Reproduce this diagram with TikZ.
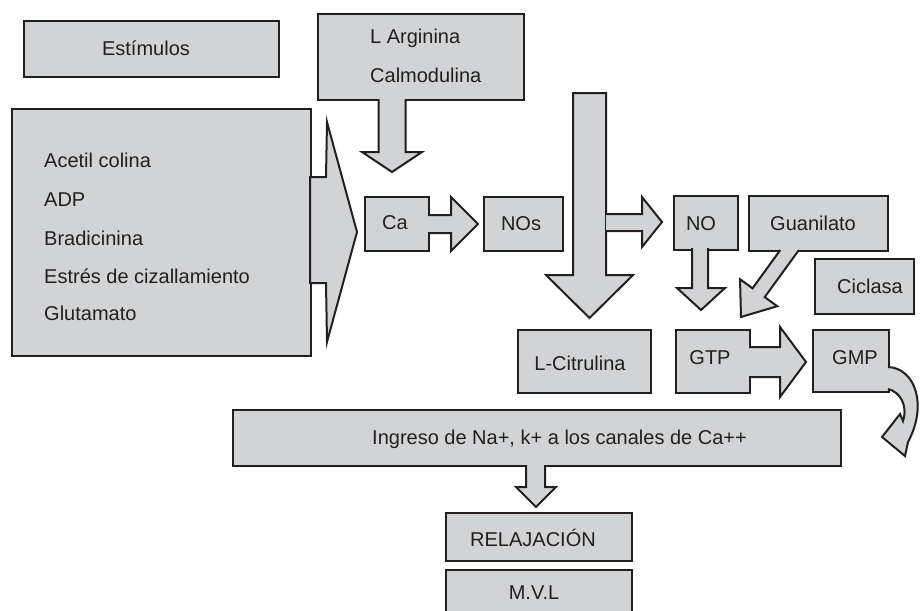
\documentclass[tikz,border=0pt]{standalone}
\usepackage{fontspec}
\setmainfont{Liberation Sans}
\definecolor{boxC}{HTML}{D1D3D4}
\definecolor{lineC}{HTML}{231F20}
\begin{document}
\begin{tikzpicture}[x=1pt,y=-1pt,
  box/.style={draw=lineC, fill=boxC, line width=2pt, inner sep=0pt, anchor=north west},
  blockarrow/.style={draw=lineC, fill=boxC, line width=2pt, line join=miter, miter limit=10},
  txt/.style={text=lineC, font=\fontsize{20}{24}\selectfont, inner sep=0pt},
]
\useasboundingbox (0,0) rectangle (920,610);
\clip (0,0) rectangle (920,610);
\fill[white] (0,0) rectangle (920,610);

% boxes
\node[box, minimum width=255pt, minimum height=56pt] (estim) at (23,20) {};
\node[box, minimum width=206pt, minimum height=86pt] (larg) at (317,13) {};
\node[box, minimum width=299pt, minimum height=247pt] (agents) at (11,108) {};
\node[box, minimum width=64pt, minimum height=54pt] (ca) at (364,196) {};
\node[box, minimum width=79pt, minimum height=54pt] (nos) at (483,196) {};
\node[box, minimum width=64pt, minimum height=54pt] (no) at (673,195) {};
\node[box, minimum width=139pt, minimum height=55pt] (guan) at (748,195) {};
\node[box, minimum width=99pt, minimum height=55pt] (cicl) at (814,258) {};
\node[box, minimum width=133pt, minimum height=63pt] (citr) at (517,329) {};
\node[box, minimum width=74pt, minimum height=63pt] (gtp) at (675,329) {};
\node[box, minimum width=76pt, minimum height=62pt] (gmp) at (812,329) {};
\node[box, minimum width=608pt, minimum height=56pt] (ingr) at (232,409) {};
\node[box, minimum width=186pt, minimum height=48pt] (relaj) at (445,512) {};
\node[box, minimum width=186pt, minimum height=56pt] (mvl) at (445,569) {};

% texts
\node[txt, anchor=base] (t-estim) at (146,56) {Estímulos};
\node[txt, anchor=base west] (t-larg1) at (370,44) {L Arginina};
\node[txt, anchor=base west] (t-larg2) at (370,82) {Calmodulina};
\node[txt, anchor=base west] (t-ag1) at (44,167) {Acetil colina};
\node[txt, anchor=base west] (t-ag2) at (44,206) {ADP};
\node[txt, anchor=base west] (t-ag3) at (44,245) {Bradicinina};
\node[txt, anchor=base west] (t-ag4) at (44,283) {Estrés de cizallamiento};
\node[txt, anchor=base west] (t-ag5) at (44,320) {Glutamato};
\node[txt, anchor=base] (t-ca) at (395,229) {Ca};
\node[txt, anchor=base] (t-nos) at (521,230) {NOs};
\node[txt, anchor=base] (t-no) at (701,230) {NO};
\node[txt, anchor=base] (t-guan) at (813,230) {Guanilato};
\node[txt, anchor=base] (t-cicl) at (870,293) {Ciclasa};
\node[txt, anchor=base] (t-citr) at (580,370) {L-Citrulina};
\node[txt, anchor=base] (t-gtp) at (710,364) {GTP};
\node[txt, anchor=base] (t-gmp) at (855,364) {GMP};
\node[txt, anchor=base west] (t-ingr) at (372,444) {Ingreso de Na+, k+ a los canales de Ca++};
\node[txt, anchor=base] (t-relaj) at (533,546) {RELAJACIÓN};
\node[txt, anchor=base] (t-mvl) at (534,599) {M.V.L};

% block arrows
% agents -> Ca (chevron)
\draw[blockarrow] (310,177) -- (326,177) -- (327,122) -- (357,232) -- (327,342) -- (326,283) -- (310,283) -- cycle;
% L Arginina -> Ca
\draw[blockarrow] (378.5,99) -- (378.5,152) -- (362,152) -- (392,172) -- (422,152) -- (405.5,152) -- (405.5,99);
% Ca -> NOs
\draw[blockarrow] (428,215) -- (451,215) -- (451,197) -- (478,224) -- (451,251) -- (451,233) -- (428,233);
% big down arrow -> L-Citrulina
\draw[blockarrow] (573,93) -- (606,93) -- (606,275) -- (633,275) -- (589.5,318) -- (546,275) -- (573,275) -- cycle;
% side arrow -> NO
\draw[blockarrow] (606,214) -- (642,214) -- (642,197) -- (662,222) -- (642,247) -- (642,231) -- (606,231);
% NO -> GTP
\draw[blockarrow] (692,248) -- (692,288) -- (677,288) -- (701,310) -- (725,288) -- (708,288) -- (708,248);
% Guanilato -> GTP (diagonal)
\draw[blockarrow] (780.3,250) -- (752.5,288.3) -- (740,279.2) -- (741,317) -- (777.2,306.2) -- (764.7,297.1) -- (798.9,250);
% GTP -> GMP
\draw[blockarrow] (749,347) -- (780,347) -- (780,327) -- (806,362) -- (780,397) -- (780,377) -- (749,377);
% Ingreso -> Relajacion
\draw[blockarrow] (526,465) -- (526,487) -- (516,487) -- (536,507) -- (556,487) -- (545,487) -- (545,465);
% curved arrow from GMP
\draw[blockarrow] (888,367) .. controls (915,368) and (928,405) .. (908,442)
  -- (905,456) -- (882,437) -- (900,414) -- (903,421)
  .. controls (908,405) and (900,392) .. (888,389);
\end{tikzpicture}
\end{document}
